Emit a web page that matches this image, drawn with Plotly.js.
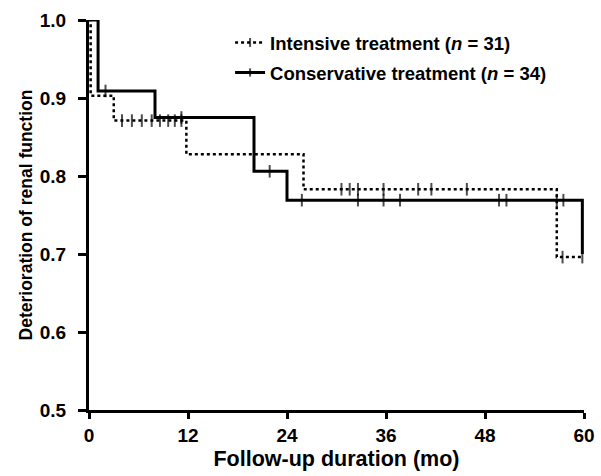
<!DOCTYPE html>
<html>
<head>
<meta charset="utf-8">
<script src="https://cdn.plot.ly/plotly-3.0.1.min.js"></script>
<style>html,body{margin:0;padding:0;background:#fff;}#chart{width:601px;height:476px;}</style>
</head>
<body>
<div id="chart"></div>
<script>
// Intensive treatment (dotted)
const intTimes = [0, 0.2, 3, 11.8, 26, 56.7, 59.8];
const intSurv  = [1.0, 0.903, 0.871, 0.828, 0.783, 0.696, 0.696];
const intCensor = [4.0, 5.2, 6.4, 7.6, 8.6, 9.6, 10.4, 11.2, 30.6, 31.6, 32.6, 35.7, 39.9, 41.5, 45.8, 57.4, 59.8];
// Conservative treatment (solid)
const conTimes = [0, 1.1, 8, 20, 24, 59.8];
const conSurv  = [1.0, 0.909, 0.875, 0.806, 0.769, 0.70];
const conCensor = [2.0, 11.2, 21.9, 25.8, 32.6, 35.7, 37.7, 49.7, 50.6, 56.7, 57.5];

const xTicks = [0, 12, 24, 36, 48, 60];
const yTicks = [0.5, 0.6, 0.7, 0.8, 0.9, 1.0];
const names = ['Intensive treatment (<i>n</i> = 31)', 'Conservative treatment (<i>n</i> = 34)'];

function stepAt(times, surv, t) {
  let v = surv[0];
  for (let i = 0; i < times.length; i++) { if (times[i] <= t) v = surv[i]; }
  return v;
}
function build(times, surv, censor) {
  const pts = [];
  times.forEach((t, i) => pts.push({x: t, y: surv[i], c: false}));
  censor.forEach(t => pts.push({x: t, y: stepAt(times, surv, t), c: true}));
  pts.sort((a, b) => a.x - b.x || (a.c - b.c));
  return {
    x: pts.map(p => p.x), y: pts.map(p => p.y),
    size: pts.map(p => p.c ? 9 : 0)
  };
}
const a = build(intTimes, intSurv, intCensor);
const b = build(conTimes, conSurv, conCensor);

const fam = 'Liberation Sans, Arial, sans-serif';
function f(size) { return {family: fam, color: '#000', weight: 'bold', size: size}; }

const traces = [
  {x: a.x, y: a.y, mode: 'lines+markers', name: names[0], legendgroup: 'g1',
   line: {shape: 'hv', dash: 'dot', width: 2.5, color: '#000'},
   marker: {symbol: 'line-ns-open', size: a.size, color: '#000', line: {width: 2, color: '#000'}},
   cliponaxis: false},
  {x: b.x, y: b.y, mode: 'lines+markers', name: names[1], legendgroup: 'g2',
   line: {shape: 'hv', width: 3, color: '#000'},
   marker: {symbol: 'line-ns-open', size: b.size, color: '#000', line: {width: 2, color: '#000'}},
   cliponaxis: false}
];

const layout = {
  width: 601, height: 476,
  margin: {l: 89, r: 17, t: 20, b: 66},
  paper_bgcolor: '#fff', plot_bgcolor: '#fff',
  showlegend: true,
  legend: {x: 0.285, y: 0.99, xanchor: 'left', yanchor: 'top', bgcolor: 'rgba(0,0,0,0)',
           font: f(18.5), tracegroupgap: 3},
  xaxis: {range: [0, 60], tickmode: 'array', tickvals: xTicks, ticktext: xTicks.map(String),
          showgrid: false, zeroline: false, showline: true, linecolor: '#000', linewidth: 3,
          ticks: 'outside', ticklen: 6, tickwidth: 3, tickcolor: '#000',
          tickfont: f(19), automargin: false,
          title: {text: 'Follow-up duration (mo)', font: f(21.5), standoff: 7}},
  yaxis: {range: [0.5, 1.0], tickmode: 'array', tickvals: yTicks, ticktext: yTicks.map(v => v.toFixed(1)),
          showgrid: false, zeroline: false, showline: true, linecolor: '#000', linewidth: 3,
          ticks: 'outside', ticklen: 8, tickwidth: 3, tickcolor: '#000',
          ticklabelstandoff: 8,
          tickfont: f(19), automargin: false,
          title: {text: 'Deterioration of renal function', font: f(17.5), standoff: 3}}
};
Plotly.newPlot('chart', traces, layout, {displayModeBar: false, staticPlot: true});
</script>
</body>
</html>
